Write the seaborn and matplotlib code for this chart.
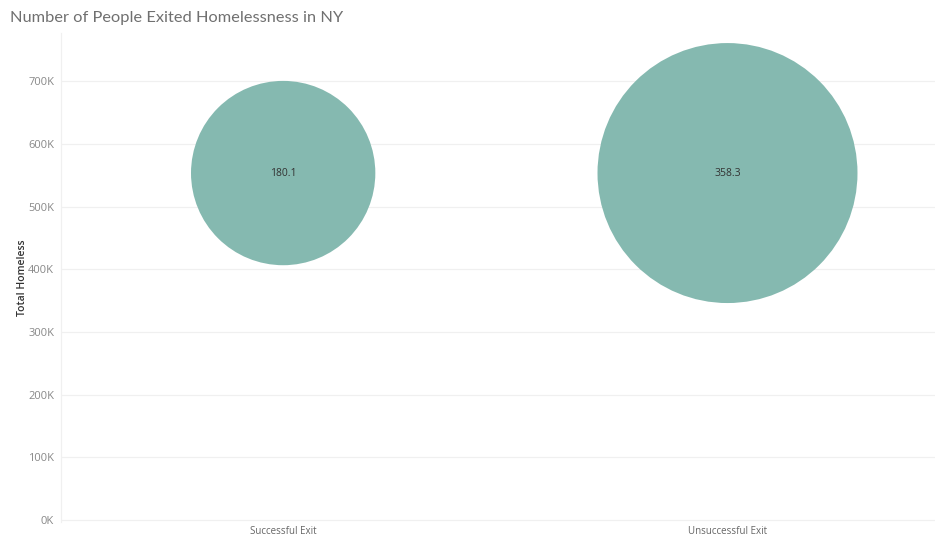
import pandas as pd
import seaborn as sns
import matplotlib.pyplot as plt
from matplotlib.ticker import FuncFormatter, MultipleLocator

# values
exit_types = ['Successful Exit', 'Unsuccessful Exit']
total_homeless = [553600, 553600]
exit_counts = [180.1, 358.3]

TEAL = '#85b9b0'
GRID = '#f0f0f0'

df = pd.DataFrame({'Exit': exit_types,
                   'Total Homeless': total_homeless,
                   'Count': exit_counts})

sns.set_theme(style='white')
plt.rcParams['font.family'] = ['Open Sans', 'DejaVu Sans']

fig = plt.figure(figsize=(9.35, 5.36), dpi=100)
ax = fig.add_axes([61 / 935, 14 / 536, (935 - 61) / 935, (522 - 33) / 536])

sns.scatterplot(data=df, x='Exit', y='Total Homeless', size='Count',
                sizes=(0, 35040), size_norm=(0, max(exit_counts)),
                color=TEAL, edgecolor='none', alpha=1, legend=False,
                ax=ax, zorder=3)

for i, (v, c) in enumerate(zip(total_homeless, exit_counts)):
    ax.text(i, v, '{:.1f}'.format(c), ha='center', va='center',
            fontsize=7.5, color='#333333', zorder=4)

ax.set_xlim(-0.5, 1.467)
ax.set_ylim(-3000, 777000)
ax.yaxis.set_major_locator(MultipleLocator(100000))
ax.yaxis.set_major_formatter(FuncFormatter(lambda v, p: '{}K'.format(int(round(v / 1000)))))
ax.grid(axis='y', color=GRID, linewidth=0.9, zorder=0)
ax.grid(axis='x', visible=False)

for s in ['top', 'right', 'bottom']:
    ax.spines[s].set_visible(False)
ax.spines['left'].set_color(GRID)
ax.spines['left'].set_linewidth(0.9)

ax.tick_params(axis='y', length=0, labelsize=8, labelcolor='#888888', pad=5)
ax.tick_params(axis='x', length=0, labelsize=7, labelcolor='#666666', pad=3)
ax.set_xlabel('')
ax.set_ylabel('Total Homeless', fontsize=7.5, color='#333333', fontweight='semibold', labelpad=0)

fig.text(10 / 935, 1 - 18 / 536, 'Number of People Exited Homelessness in NY',
         fontsize=11.8, color='#707070', ha='left', va='center',
         family=['Lato', 'DejaVu Sans'])

fig.savefig('out.png', dpi=100)
